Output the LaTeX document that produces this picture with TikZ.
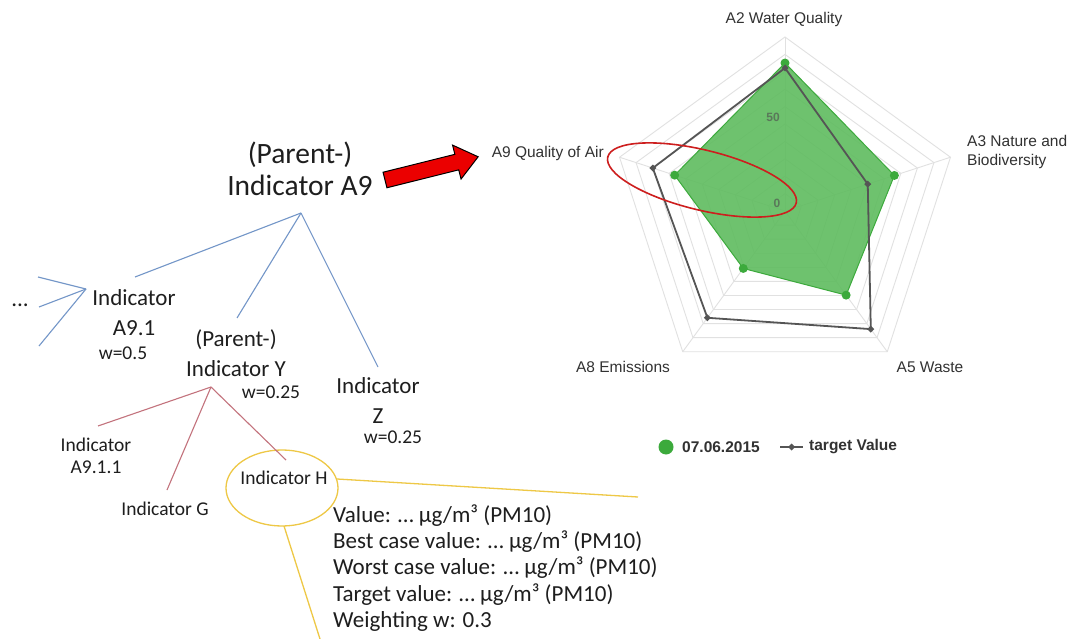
\documentclass[tikz,border=0pt]{standalone}
\usepackage{fontspec}
\setmainfont{Carlito}
\newfontfamily\arialf{Liberation Sans}
\usetikzlibrary{shapes.geometric}
\definecolor{treeblue}{RGB}{115,150,200}
\definecolor{treered}{RGB}{195,115,125}
\definecolor{treeyellow}{RGB}{238,200,70}
\definecolor{radargreen}{RGB}{95,188,95}
\definecolor{radargreenedge}{RGB}{60,170,60}
\definecolor{targetgray}{RGB}{85,85,85}
\definecolor{gridgray}{RGB}{225,225,225}
\definecolor{circlered}{RGB}{205,30,30}
\definecolor{arrowred}{RGB}{235,0,0}
\definecolor{txt}{RGB}{30,30,30}
\definecolor{lbl}{RGB}{50,50,50}
\definecolor{scalelbl}{RGB}{90,120,90}
\tikzset{
  bigtxt/.style={font=\fontsize{29.5}{32}\selectfont, align=center, inner sep=0pt, text=txt},
  midtxt/.style={font=\fontsize{23}{30}\selectfont, align=center, inner sep=0pt, text=txt},
  smalltxt/.style={font=\fontsize{19.5}{22}\selectfont, align=center, inner sep=0pt, text=txt},
  infotxt/.style={font=\fontsize{23}{26.2}\selectfont, align=left, inner sep=0pt, text=txt},
  radarlbl/.style={font=\arialf\fontsize{15.5}{18.5}\selectfont, inner sep=0pt, text=lbl},
  legendlbl/.style={font=\arialf\bfseries\fontsize{15.5}{18}\selectfont, inner sep=0pt, text=lbl},
  scalelabel/.style={font=\arialf\bfseries\fontsize{12}{14}\selectfont, inner sep=0pt, text=scalelbl},
  blueline/.style={draw=treeblue, line width=1.1pt},
  redline/.style={draw=treered, line width=1.1pt},
  yellowline/.style={draw=treeyellow, line width=1.3pt},
  gridline/.style={draw=gridgray, line width=0.9pt},
  targetline/.style={draw=targetgray, line width=1.8pt, line join=round},
  greenpoly/.style={fill=radargreen, fill opacity=0.9, draw=radargreenedge, line width=1pt},
  greendot/.style={fill=radargreenedge},
  targetmark/.style={fill=targetgray},
  hellipse/.style={ellipse, draw=treeyellow, line width=1.3pt, minimum width=112pt, minimum height=76pt, inner sep=0pt},
  bigarrow/.style={fill=arrowred, draw=black, line width=1pt, line join=miter},
}
\begin{document}
\begin{tikzpicture}[x=1pt,y=-1pt]
\useasboundingbox[fill=white] (0,0) rectangle (1071,639);

% ---------------- Radar chart ----------------
\begin{scope}[shift={(785,211)}]
  \foreach \k in {1,...,10} {
    \pgfmathsetmacro\rr{\k*17.4}
    \draw[gridline] (-90:\rr) -- (-18:\rr) -- (54:\rr) -- (126:\rr) -- (198:\rr) -- cycle;
  }
  \foreach \a in {-90,-18,54,126,198}
    \draw[gridline] (0,0) -- (\a:174);
  % green data
  \draw[greenpoly] (-90:148) -- (-18:115) -- (54:104) -- (126:71) -- (198:116) -- cycle;
  \foreach \a/\r in {-90/148,-18/115,54/104,126/71,198/116}
    \fill[greendot] (\a:\r) circle (4.5);
  % target line
  \draw[targetline] (-90:143) -- (-18:87) -- (54:146) -- (126:132) -- (198:139) -- cycle;
  \foreach \a/\r in {-90/143,-18/87,54/146,126/132,198/139}
    \fill[targetmark] (\a:\r) ++(-3.5,0) -- ++(3.5,-3.5) -- ++(3.5,3.5) -- ++(-3.5,3.5) -- cycle;
  \node[scalelabel] (s50) at (-12,-94) {50};
  \node[scalelabel] (s0) at (-8,-8) {0};
\end{scope}
\draw[circlered, line width=1.6pt, rotate around={-13.7:(702,180)}] (702,180) ellipse [x radius=97, y radius=30];

\node[radarlbl] (lA2) at (784,19) {A2 Water Quality};
\node[radarlbl, anchor=west, align=left] (lA3) at (967,152) {A3 Nature and\\Biodiversity};
\node[radarlbl] (lA5) at (930,367) {A5 Waste};
\node[radarlbl] (lA8) at (623,367) {A8 Emissions};
\node[radarlbl, anchor=east] (lA9) at (604,153) {A9 Quality of Air};

% legend
\fill[radargreenedge] (666,447) circle (7.5);
\node[legendlbl, anchor=west] (leg1) at (682,447) {07.06.2015};
\draw[targetgray, line width=1.5pt] (780,447) -- (803,447);
\fill[targetmark] (788,447) -- (791.5,443.5) -- (795,447) -- (791.5,450.5) -- cycle;
\node[legendlbl, anchor=west] (leg2) at (809,447) {target Value};

% ---------------- Red block arrow ----------------
\begin{scope}[shift={(385,180)}, rotate=14]
  \draw[bigarrow] (0,-8) -- (74,-8) -- (74,-17.5) -- (96,0) -- (74,17.5) -- (74,8) -- (0,8) -- cycle;
\end{scope}

% ---------------- Tree ----------------
\node[bigtxt] (root) at (300,169) {(Parent-)\\Indicator A9};
\node[midtxt] (n91) at (134,312.5) {Indicator\\A9.1};
\node[smalltxt] (w91) at (123,353) {w=0.5};
\node[midtxt] (dots) at (20,305) {...};
\node[midtxt] (nY) at (236,353) {(Parent-)\\Indicator Y};
\node[smalltxt] (wY) at (271,392) {w=0.25};
\node[midtxt] (nZ) at (378,401) {Indicator\\Z};
\node[smalltxt] (wZ) at (393,437) {w=0.25};
\node[smalltxt] (n911) at (96,456) {Indicator\\A9.1.1};
\node[smalltxt] (nG) at (165,509) {Indicator G};
\node[hellipse] (Hell) at (282,488) {};
\node[smalltxt] (nH) at (284,478) {Indicator H};
\node[infotxt, anchor=west] (info) at (333,568) {Value: … µg/m³ (PM10)\\Best case value: … µg/m³ (PM10)\\Worst case value: … µg/m³ (PM10)\\Target value: … µg/m³ (PM10)\\Weighting w: 0.3};

\coordinate (rootapex) at (301,213);
\coordinate (e91) at (135,277);
\coordinate (eY) at (237,318);
\coordinate (eZ) at (378,367);
\draw[blueline] (rootapex) -- (e91);
\draw[blueline] (rootapex) -- (eY);
\draw[blueline] (rootapex) -- (eZ);

\coordinate (a91) at (86,289);
\coordinate (d1) at (38,277);
\coordinate (d2) at (39,307);
\coordinate (d3) at (39,346);
\draw[blueline] (a91) -- (d1);
\draw[blueline] (a91) -- (d2);
\draw[blueline] (a91) -- (d3);

\coordinate (aY) at (211,387);
\coordinate (e911) at (98,426);
\coordinate (eG) at (167,490);
\coordinate (eH) at (286,460);
\draw[redline] (aY) -- (e911);
\draw[redline] (aY) -- (eG);
\draw[redline] (aY) -- (eH);

\coordinate (hr) at (337,479);
\coordinate (hrend) at (638,497);
\coordinate (hb) at (284,526);
\coordinate (hbend) at (320,639);
\draw[yellowline] (hr) -- (hrend);
\draw[yellowline] (hb) -- (hbend);
\end{tikzpicture}
\end{document}
